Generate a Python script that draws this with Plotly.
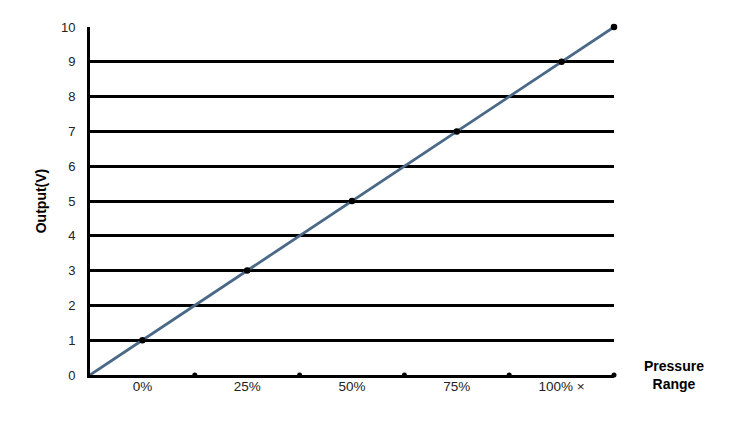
import plotly.graph_objects as go

categories = ["0%", "25%", "50%", "75%", "100% ×"]
cat_pos = [1, 2, 3, 4, 5]
output_values = [1, 3, 5, 7, 9]
line_x = [0.5, 1, 2, 3, 4, 5, 5.5]
line_y = [0, 1, 3, 5, 7, 9, 10]
tick_dot_x = [1.5, 2.5, 3.5, 4.5, 5.5]
tick_dot_y = [0, 0, 0, 0, 0]
y_ticks = list(range(0, 11))

fig = go.Figure()
fig.add_trace(go.Scatter(x=line_x, y=line_y, mode="lines",
                         line=dict(color="#4a6887", width=2.8),
                         cliponaxis=False, hoverinfo="skip"))
fig.add_trace(go.Scatter(x=cat_pos + [line_x[-1]], y=output_values + [line_y[-1]], mode="markers",
                         marker=dict(color="black", size=6.5),
                         cliponaxis=False))
fig.add_trace(go.Scatter(x=tick_dot_x, y=tick_dot_y, mode="markers",
                         marker=dict(color="black", size=5),
                         cliponaxis=False, hoverinfo="skip"))

fig.update_layout(
    width=732, height=425,
    margin=dict(l=82, r=126, t=17, b=58),
    plot_bgcolor="white", paper_bgcolor="white",
    showlegend=False,
    font=dict(family="Liberation Sans, Arial", size=13, color="black"),
    xaxis=dict(range=[0.5, 5.5], tickvals=cat_pos, ticktext=categories,
               showgrid=False, zeroline=False, showline=True, linecolor="black",
               linewidth=3, ticks="", ticklabelstandoff=-3,
               tickfont=dict(size=13.5, color="#222")),
    yaxis=dict(range=[0, 10], tickvals=y_ticks, showgrid=True, gridcolor="black",
               gridwidth=3, zeroline=False, showline=True, linecolor="black",
               linewidth=3, ticks="", ticklabelstandoff=9,
               tickfont=dict(size=13, color="#222"),
               title=dict(text="<b>Output(V)</b>", font=dict(size=14), standoff=12)),
    annotations=[dict(text="<b>Pressure<br>Range</b>", xref="paper", yref="paper",
                      x=1.114, y=0.0, xanchor="center", yanchor="middle",
                      showarrow=False, font=dict(size=14), align="center")],
)
fig.write_html("out.html")
